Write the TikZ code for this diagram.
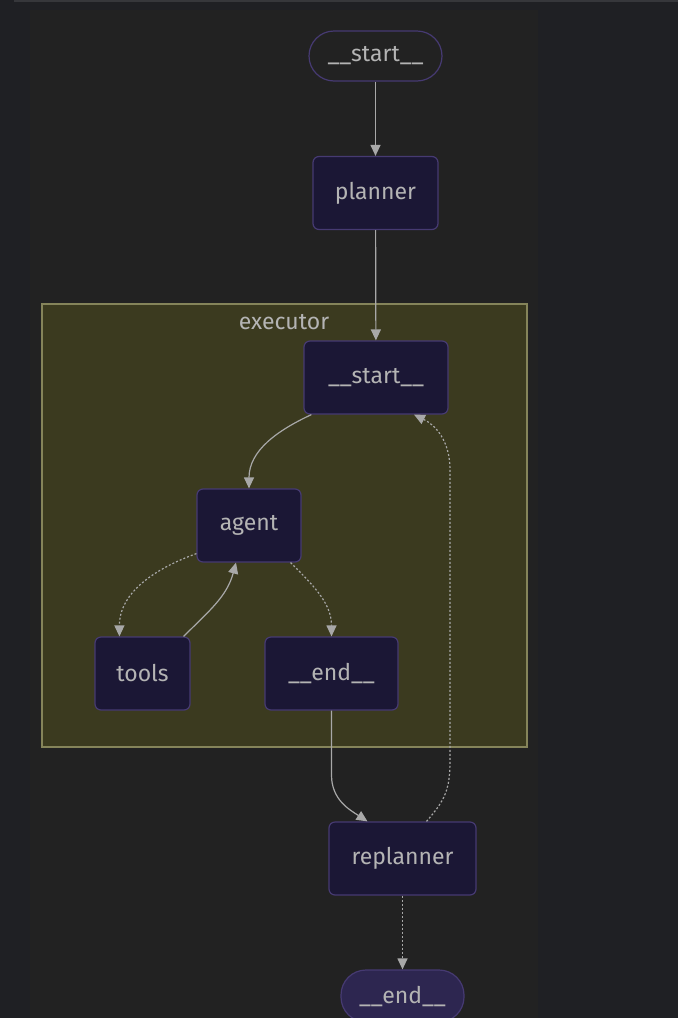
\documentclass[tikz,border=0pt]{standalone}
\usepackage{fontspec}
\setmainfont{Fira Sans}
\usetikzlibrary{arrows.meta}

\definecolor{pagebg}{HTML}{1F2024}
\definecolor{panelbg}{HTML}{222222}
\definecolor{topline}{HTML}{36373B}
\definecolor{clusterfill}{HTML}{3B3A1F}
\definecolor{clusterline}{HTML}{85845A}
\definecolor{nodefill}{HTML}{1B1735}
\definecolor{nodeline}{HTML}{463A72}
\definecolor{capfill}{HTML}{2D2650}
\definecolor{labeltext}{HTML}{B4B4B4}
\definecolor{edgeline}{HTML}{A8A8A8}

\begin{document}
\begin{tikzpicture}[x=1pt, y=1pt,
	every node/.style={rectangle, draw=nodeline, fill=nodefill, rounded corners=6pt, line width=1.2pt, text=labeltext, font=\fontsize{23}{26}\selectfont, minimum height=73pt, inner sep=0pt},
	stadium/.style={rounded corners=25pt, minimum height=50pt, fill=panelbg},
	endcap/.style={rounded corners=25pt, minimum height=52pt, fill=capfill},
	link/.style={draw=edgeline, line width=1.2pt, -{Triangle[length=11pt, width=10pt]}},
	maybe/.style={link, dash pattern=on 2pt off 2pt}]
	\useasboundingbox (0,0) rectangle (678,-1018);
	\fill[pagebg] (0,0) rectangle (678,-1018);
	\fill[panelbg] (30,-10) rectangle (538,-1018);
	\fill[topline] (14,0) rectangle (678,-2);
	\draw[clusterline, fill=clusterfill, line width=1.2pt] (42,-304) rectangle (527,-747);
	
	\node[draw=none, fill=none, minimum height=0pt] (exlabel) at (284,-322){executor};
	
	\node[stadium, minimum width=133pt] (start) at (375.5,-56){\_\_start\_\_};
	\node[minimum width=125pt] (planner) at (375.5,-193){planner};
	\node[minimum width=144pt] (substart) at (376,-377.5){\_\_start\_\_};
	\node[minimum width=104pt] (agent) at (249,-525.5){agent};
	\node[minimum width=95pt] (tools) at (142.5,-673.5){tools};
	\node[minimum width=133pt] (subend) at (331.5,-673.5){\_\_end\_\_};
	\node[minimum width=147pt] (replanner) at (402.5,-858.5){replanner};
	\node[endcap, minimum width=123pt] (end) at (402.5,-996){\_\_end\_\_};
	
	\path (start) edge[link] (planner);
	\path (planner) edge[link] (substart);
	\path ([xshift=8pt]substart.south west) edge[link, out=205, in=90] (agent.north);
	\path ([yshift=9pt]agent.south west) edge[maybe, out=200, in=90] ([xshift=25pt]tools.north west);
	\path ([xshift=-7pt]tools.north east) edge[link, out=45, in=-105] ([xshift=-13pt]agent.south);
	\path ([xshift=-11pt]agent.south east) edge[maybe, out=-45, in=90] (subend.north);
	\draw[link] (subend.south) -- (331.5,-775) .. controls (331.5,-800) and (350,-810) .. ([xshift=-35pt]replanner.north);
	\draw[maybe] ([xshift=24pt]replanner.north) .. controls (445,-800) and (450,-790) .. (450,-760) -- (450,-470) .. controls (450,-440) and (435,-425) .. ([xshift=38pt]substart.south);
	\path (replanner) edge[maybe] (end);
\end{tikzpicture}
\end{document}
